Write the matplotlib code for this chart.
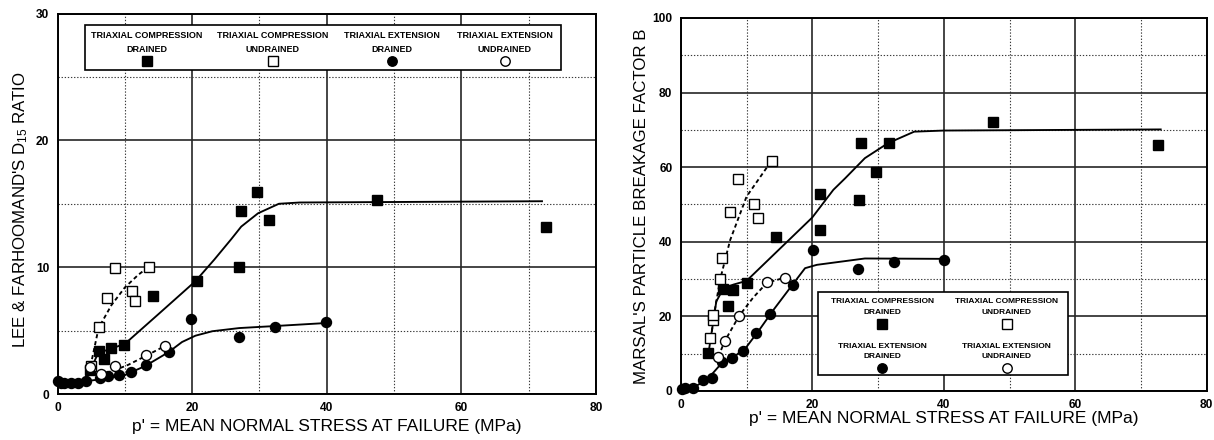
import matplotlib
matplotlib.use('Agg')
import matplotlib.pyplot as plt
from matplotlib import font_manager
from matplotlib.ticker import MultipleLocator
from matplotlib.patches import Rectangle

# ---------------- data ----------------
# Left panel: Lee & Farhoomand's D15 ratio
L_tcd_x = [4.8, 6.2, 6.9, 7.9, 9.9, 14.25, 20.8, 26.9, 27.2, 29.6, 31.4, 47.5, 72.6]
L_tcd_y = [1.9, 3.4, 2.75, 3.6, 3.9, 7.7, 8.9, 10.0, 14.4, 15.9, 13.7, 15.3, 13.2]
L_tcu_x = [4.9, 6.1, 7.3, 8.6, 11.0, 11.5, 13.6]
L_tcu_y = [2.2, 5.25, 7.6, 9.95, 8.15, 7.35, 10.05]
L_ted_x = [0.0, 0.5, 1.0, 2.0, 3.0, 4.2, 6.3, 7.5, 9.2, 10.9, 13.1, 16.6, 19.9, 26.9, 32.3, 39.9]
L_ted_y = [1.0, 0.9, 0.9, 0.9, 0.9, 1.0, 1.3, 1.4, 1.5, 1.7, 2.3, 3.3, 5.9, 4.5, 5.3, 5.7]
L_teu_x = [4.8, 6.4, 8.6, 13.1, 16.0]
L_teu_y = [2.1, 1.6, 2.2, 3.05, 3.8]
# fitted curves (left)
L_tcd_cx = [4.2, 5.0, 6.0, 7.5, 10.0, 15.0, 20.5, 23.3, 25.8, 27.3, 29.8, 32.9, 36.0, 72.0]
L_tcd_cy = [1.1, 2.0, 3.2, 3.5, 3.95, 6.3, 8.9, 10.6, 12.2, 13.2, 14.25, 15.0, 15.1, 15.2]
L_tcu_cx = [4.9, 6.1, 8.0, 10.0, 12.0, 13.6]
L_tcu_cy = [2.2, 5.2, 7.0, 8.4, 9.4, 10.05]
L_ted_cx = [0.0, 4.0, 7.0, 10.0, 13.0, 16.5, 18.5, 20.5, 23.0, 27.0, 32.0, 40.0]
L_ted_cy = [1.0, 1.0, 1.2, 1.5, 2.2, 3.3, 4.1, 4.6, 4.95, 5.2, 5.35, 5.6]
L_teu_cx = [6.3, 8.6, 10.5, 13.1, 16.0]
L_teu_cy = [1.5, 1.9, 2.3, 3.0, 3.8]

# Right panel: Marsal's particle breakage factor B
R_tcd_x = [4.2, 6.4, 7.2, 8.0, 10.0, 14.5, 21.2, 21.1, 27.1, 27.4, 29.7, 31.6, 47.5, 72.6]
R_tcd_y = [10.1, 27.2, 22.8, 27.0, 28.8, 41.3, 43.1, 52.9, 51.1, 66.5, 58.8, 66.5, 72.0, 65.9]
R_tcu_x = [4.45, 4.85, 4.95, 6.0, 6.2, 7.5, 8.75, 11.1, 11.7, 13.8]
R_tcu_y = [14.1, 19.0, 20.3, 29.9, 35.5, 48.0, 56.7, 50.1, 46.3, 61.7]
R_ted_x = [0.2, 0.6, 1.9, 3.3, 4.7, 6.2, 7.75, 9.4, 11.4, 13.5, 17.0, 20.1, 27.0, 32.5, 40.1]
R_ted_y = [0.5, 0.7, 0.7, 2.9, 3.4, 7.8, 8.7, 10.7, 15.6, 20.5, 28.4, 37.9, 32.7, 34.6, 35.1]
R_teu_x = [5.7, 6.7, 8.9, 13.1, 15.9]
R_teu_y = [9.2, 13.4, 20.2, 29.3, 30.4]
# fitted curves (right)
R_tcd_cx = [4.2, 5.4, 6.5, 8.0, 10.0, 15.0, 20.0, 23.2, 25.0, 28.0, 31.5, 35.5, 40.0, 73.0]
R_tcd_cy = [10.0, 24.0, 27.5, 28.5, 29.5, 38.0, 46.5, 53.9, 57.0, 62.4, 66.4, 69.5, 69.8, 70.1]
R_tcu_cx = [4.6, 5.0, 6.0, 7.5, 10.0, 13.8]
R_tcu_cy = [14.0, 20.0, 30.0, 40.4, 52.1, 61.7]
R_ted_cx = [0.0, 2.0, 4.0, 6.0, 8.0, 10.0, 12.0, 14.0, 17.0, 18.9, 20.7, 28.0, 40.0]
R_ted_cy = [0.3, 1.0, 3.0, 7.0, 9.0, 11.8, 16.5, 21.5, 28.5, 32.9, 33.8, 35.5, 35.4]
R_teu_cx = [5.7, 6.7, 8.9, 11.0, 13.1, 15.9]
R_teu_cy = [9.2, 13.4, 20.2, 25.0, 29.0, 30.4]

x_ticks = [0, 20, 40, 60, 80]
L_yticks = [0, 10, 20, 30]
R_yticks = [0, 20, 40, 60, 80, 100]

legend_labels = ["TRIAXIAL COMPRESSION\nDRAINED", "TRIAXIAL COMPRESSION\nUNDRAINED",
                 "TRIAXIAL EXTENSION\nDRAINED", "TRIAXIAL EXTENSION\nUNDRAINED"]

xlabel = "p' = MEAN NORMAL STRESS AT FAILURE (MPa)"
L_ylabel = "LEE & FARHOOMAND'S D$_{15}$ RATIO"
R_ylabel = "MARSAL'S PARTICLE BREAKAGE FACTOR B"

# ---------------- fonts ----------------
def have(fam):
    try:
        font_manager.findfont(font_manager.FontProperties(family=fam), fallback_to_default=False)
        return True
    except Exception:
        return False

MAIN = 'Liberation Sans' if have('Liberation Sans') else 'DejaVu Sans'
if have('Liberation Sans Narrow'):
    NARROW, nscale = 'Liberation Sans Narrow', 1.15
else:
    NARROW, nscale = MAIN, 1.0

plt.rcParams['font.family'] = [MAIN, 'DejaVu Sans']
plt.rcParams['mathtext.default'] = 'regular'

# ---------------- styles ----------------
styles = [
    dict(marker='s', mfc='black', mec='black'),
    dict(marker='s', mfc='white', mec='black'),
    dict(marker='o', mfc='black', mec='black'),
    dict(marker='o', mfc='white', mec='black'),
]
MS = 7.2

fig = plt.figure(figsize=(12.14, 4.4), dpi=100)
axL = fig.add_axes([0.0474, 0.1045, 0.4434, 0.8648])
axR = fig.add_axes([0.5608, 0.1116, 0.4332, 0.8477])


def setup(ax, ymax, ymajor, yminor, yticks):
    ax.set_xlim(0, 80)
    ax.set_ylim(0, ymax)
    ax.xaxis.set_minor_locator(MultipleLocator(10))
    ax.yaxis.set_minor_locator(MultipleLocator(yminor))
    tick_kw = dict(fontfamily=NARROW, fontweight='bold', fontsize=8.6 * nscale)
    ax.set_xticks(x_ticks, labels=[str(v) for v in x_ticks], **tick_kw)
    ax.set_yticks(yticks, labels=[str(v) for v in yticks], **tick_kw)
    ax.grid(which='major', color='#262626', lw=1.2, ls='-', zorder=0)
    ax.grid(which='minor', color='#3a3a3a', lw=0.8, ls=(0, (1.2, 1.6)), zorder=0)
    ax.set_axisbelow(True)
    for s in ax.spines.values():
        s.set_linewidth(1.4)
        s.set_color('black')
    ax.tick_params(which='both', length=0)
    ax.tick_params(axis='x', pad=6)
    ax.tick_params(axis='y', pad=6)


def plot_series(ax, pts, curves):
    for (cx, cy), ls in zip(curves, ['-', (0, (2.2, 1.6)), '-', (0, (2.2, 1.6))]):
        ax.plot(cx, cy, color='black', lw=1.35, ls=ls, zorder=2)
    for (px, py), st in zip(pts, styles):
        ax.plot(px, py, ls='none', ms=MS, mew=1.0, zorder=3, clip_on=False, **st)


def legend_cell(ax, cx, y1, y2, ym, label, st, fs):
    l1, l2 = label.split('\n')
    kw = dict(transform=ax.transAxes, ha='center', va='center', fontfamily=NARROW,
              fontweight='bold', fontsize=fs, zorder=11)
    ax.text(cx, y1, l1, **kw)
    ax.text(cx, y2, l2, **kw)
    ax.plot([cx], [ym], transform=ax.transAxes, ls='none', ms=6.8, mew=1.0,
            zorder=11, clip_on=False, **st)


# ---------------- left panel ----------------
setup(axL, 30, 10, 5, L_yticks)
plot_series(axL,
            [(L_tcd_x, L_tcd_y), (L_tcu_x, L_tcu_y), (L_ted_x, L_ted_y), (L_teu_x, L_teu_y)],
            [(L_tcd_cx, L_tcd_cy), (L_tcu_cx, L_tcu_cy), (L_ted_cx, L_ted_cy), (L_teu_cx, L_teu_cy)])
axL.add_patch(Rectangle((0.051, 0.851), 0.884, 0.119, transform=axL.transAxes,
                        facecolor='white', edgecolor='black', lw=1.2, zorder=10))
for cx, lab, st in zip([0.166, 0.400, 0.621, 0.831], legend_labels, styles):
    legend_cell(axL, cx, 0.942, 0.906, 0.876, lab, st, 6.5 * nscale)

axL.set_xlabel(xlabel, fontsize=12.5)
axL.xaxis.set_label_coords(0.5, -0.066)
axL.xaxis.label.set_verticalalignment('top')
axL.set_ylabel(L_ylabel, fontsize=12.2)
axL.yaxis.set_label_coords(-0.068, 0.485)
axL.yaxis.label.set_verticalalignment('center')

# ---------------- right panel ----------------
setup(axR, 100, 20, 10, R_yticks)
plot_series(axR,
            [(R_tcd_x, R_tcd_y), (R_tcu_x, R_tcu_y), (R_ted_x, R_ted_y), (R_teu_x, R_teu_y)],
            [(R_tcd_cx, R_tcd_cy), (R_tcu_cx, R_tcu_cy), (R_ted_cx, R_ted_cy), (R_teu_cx, R_teu_cy)])
axR.add_patch(Rectangle((0.261, 0.043), 0.475, 0.222, transform=axR.transAxes,
                        facecolor='white', edgecolor='black', lw=1.2, zorder=10))
cells = [(0.383, 0.241, 0.2115, 0.179), (0.620, 0.241, 0.2115, 0.179),
         (0.383, 0.120, 0.091, 0.061), (0.620, 0.120, 0.091, 0.061)]
for (cx, y1, y2, ym), lab, st in zip(cells, legend_labels, styles):
    legend_cell(axR, cx, y1, y2, ym, lab, st, 6.0 * nscale)

axR.set_xlabel(xlabel, fontsize=12.5)
axR.xaxis.set_label_coords(0.5, -0.055)
axR.xaxis.label.set_verticalalignment('top')
axR.set_ylabel(R_ylabel, fontsize=12.2)
axR.yaxis.set_label_coords(-0.0757, 0.494)
axR.yaxis.label.set_verticalalignment('center')

fig.savefig('out.png', dpi=100)
